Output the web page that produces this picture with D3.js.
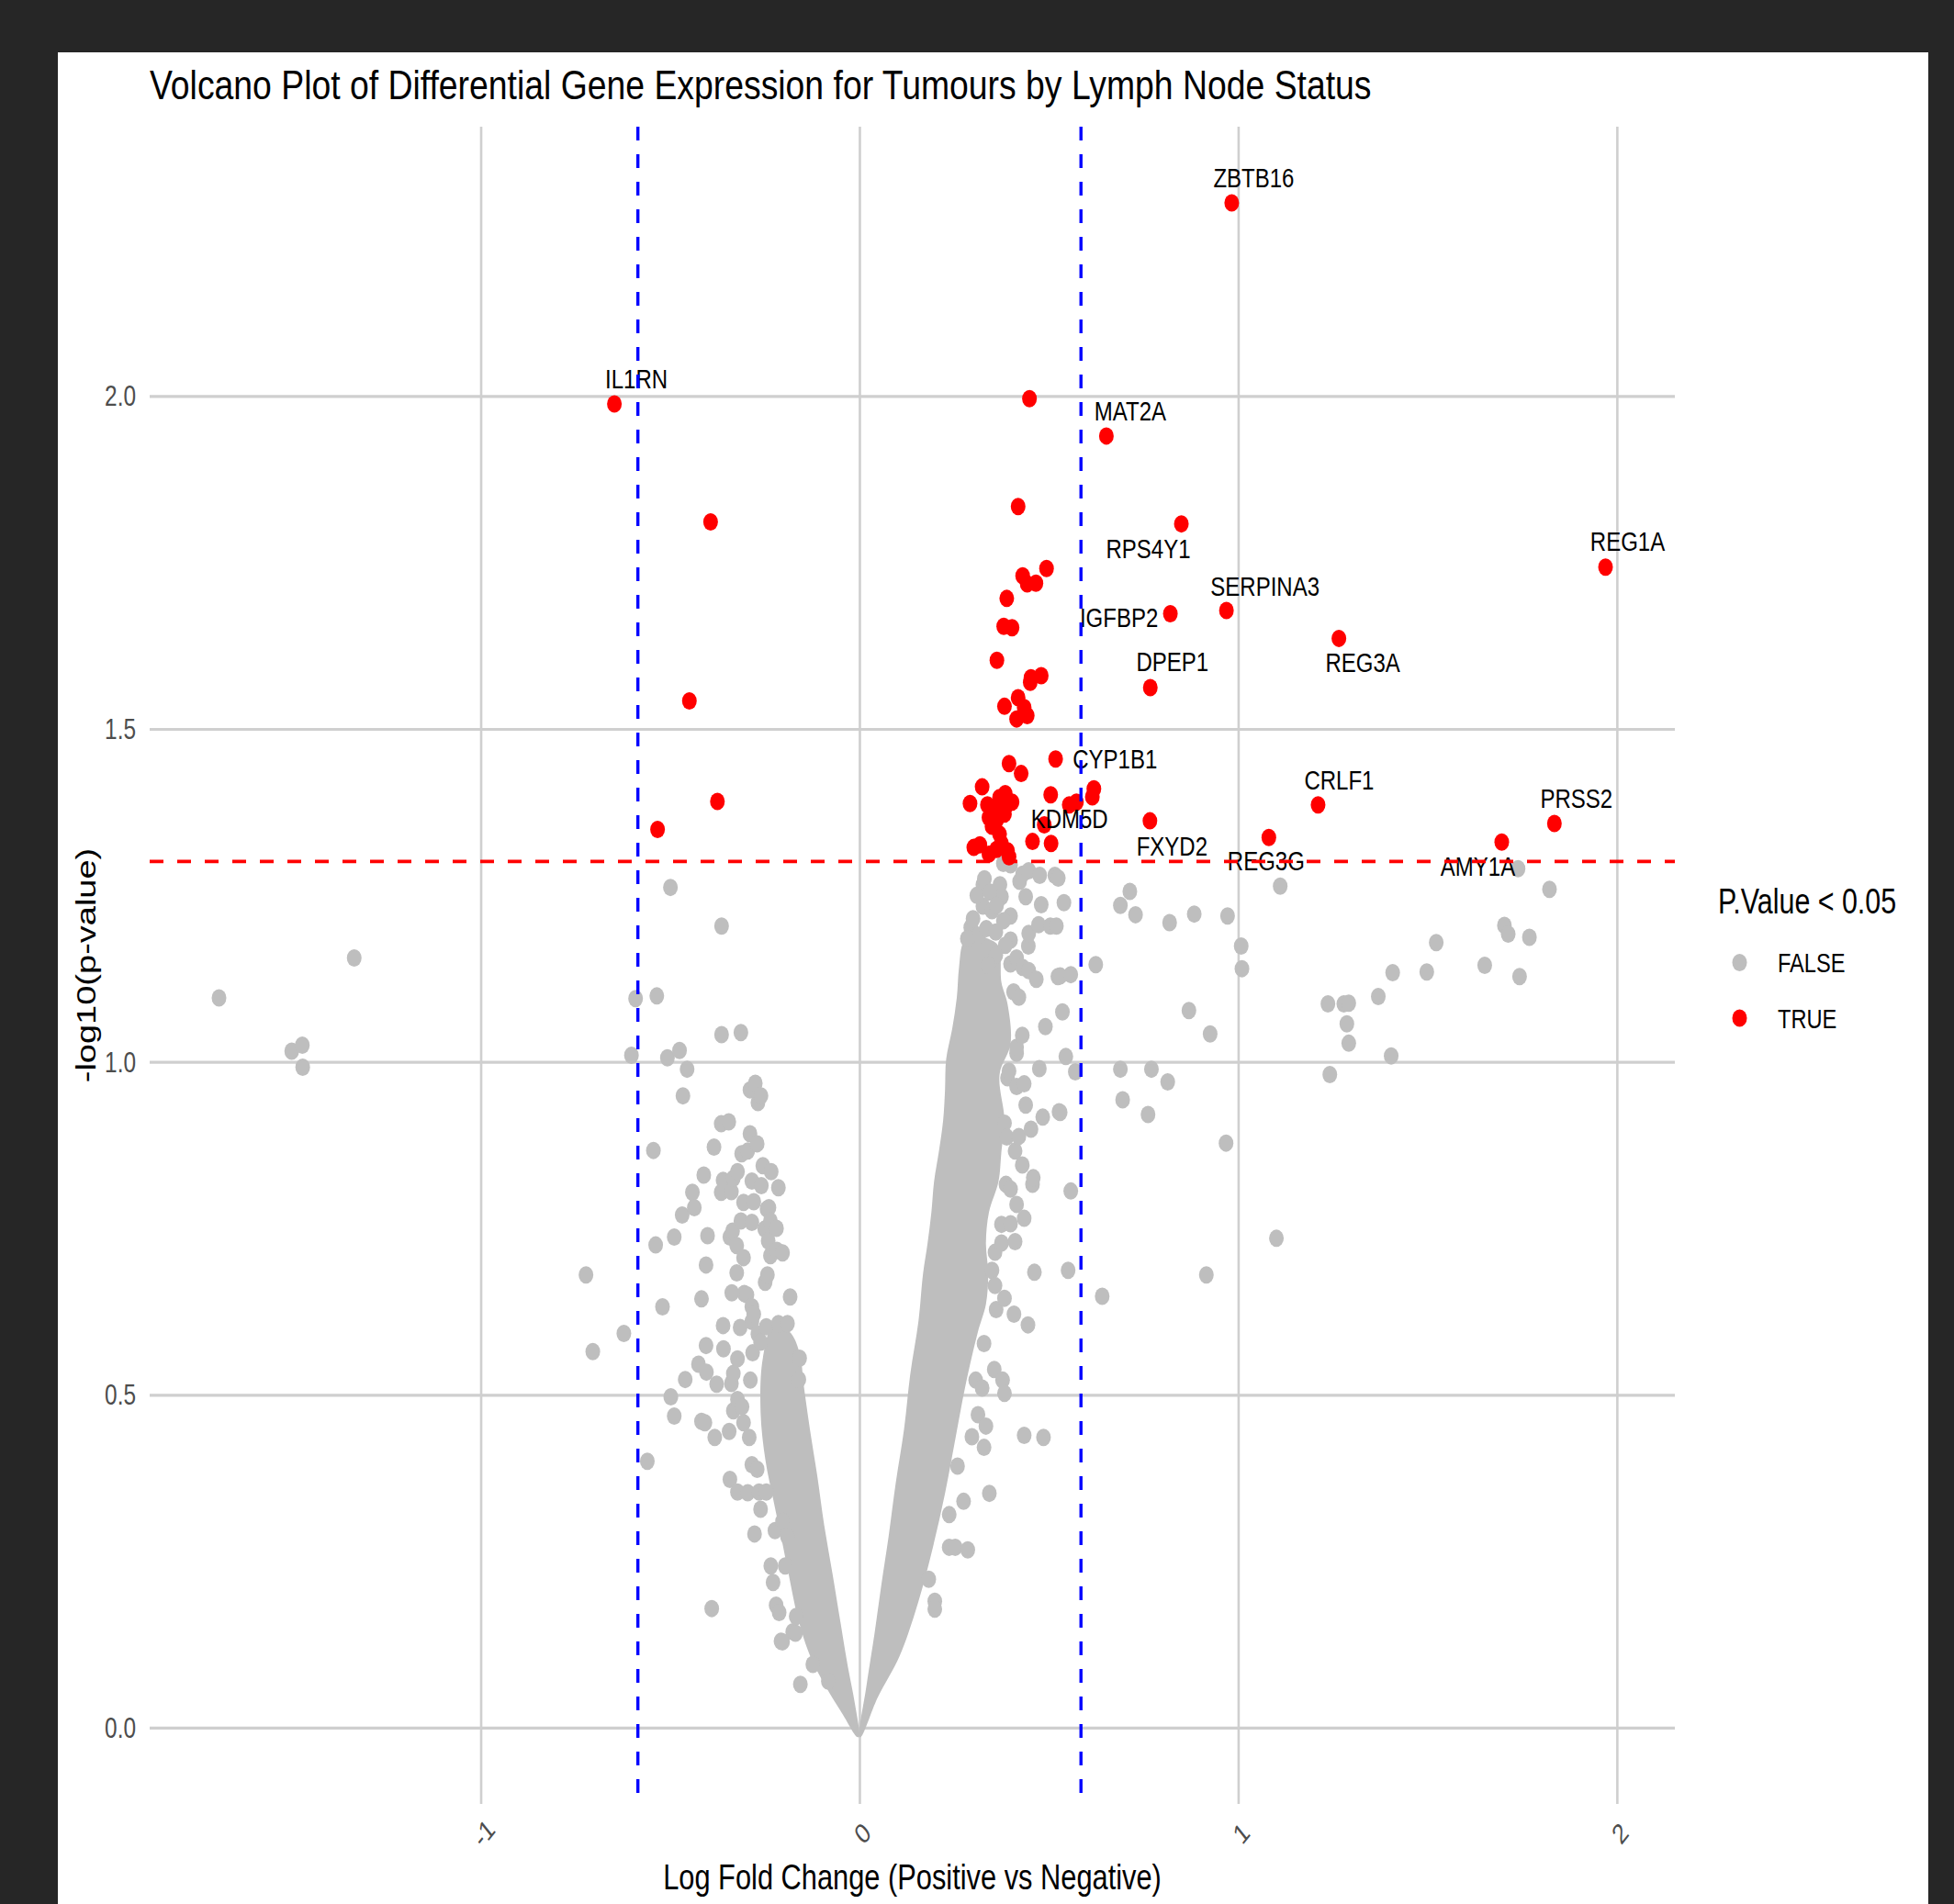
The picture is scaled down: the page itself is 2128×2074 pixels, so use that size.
<!DOCTYPE html>
<html>
<head>
<meta charset="utf-8">
<script src="https://cdn.jsdelivr.net/npm/d3@7"></script>
<style>
  html, body { margin: 0; padding: 0; background: #262626; }
  svg { display: block; }
  text { font-family: "Liberation Sans", Arial, Helvetica, sans-serif; }
</style>
</head>
<body>
<svg id="chart" width="2128" height="2074"></svg>
<script>
// ---------------------------------------------------------------------------
// Data: [log fold change, -log10(p-value)]
// ---------------------------------------------------------------------------

// Genes with P >= 0.05 that sit apart from the main mass
const nonSigGenes = [
  [-1.691,1.096],[-1.334,1.156],[-1.499,1.016],[-1.471,1.025],[-1.470,0.992],
  [-0.722,0.680],[-0.704,0.565],[-0.622,0.592],[-0.602,1.010],[-0.591,1.095],[-0.560,0.400],
  [-0.544,0.867],[-0.538,0.725],[-0.535,1.099],[-0.520,0.632],[-0.507,1.006],[-0.499,1.262],
  [-0.498,0.497],[-0.489,0.737],[-0.489,0.468],[-0.475,1.017],[-0.468,0.770],[-0.466,0.949],
  [-0.460,0.523],[-0.455,0.989],[-0.441,0.804],[-0.436,0.781],[-0.425,0.546],[-0.417,0.644],
  [-0.417,0.460],[-0.411,0.830],[-0.408,0.458],[-0.405,0.695],[-0.405,0.574],[-0.404,0.534],
  [-0.401,0.739],[-0.390,0.179],[-0.384,0.872],[-0.382,0.436],[-0.377,0.516],[-0.365,0.907],
  [-0.365,0.804],[-0.364,1.204],[-0.364,1.041],[-0.360,0.822],[-0.360,0.604],[-0.359,0.569],
  [-0.345,0.910],[-0.344,0.445],[-0.342,0.737],[-0.342,0.373],[-0.338,0.805],[-0.338,0.517],
  [-0.337,0.653],[-0.335,0.746],[-0.333,0.825],[-0.333,0.532],[-0.333,0.476],[-0.324,0.724],
  [-0.324,0.683],[-0.322,0.835],[-0.322,0.554],[-0.322,0.493],[-0.322,0.354],[-0.315,0.601],
  [-0.313,1.044],[-0.313,0.761],[-0.311,0.862],[-0.310,0.482],[-0.306,0.789],[-0.306,0.706],
  [-0.306,0.458],[-0.304,0.652],[-0.297,0.650],[-0.295,0.866],[-0.295,0.353],[-0.291,0.436],
  [-0.289,0.958],[-0.289,0.892],[-0.288,0.522],[-0.284,0.821],[-0.284,0.759],[-0.284,0.632],
  [-0.284,0.610],[-0.284,0.395],[-0.282,0.563],[-0.279,0.790],[-0.279,0.621],[-0.277,0.291],
  [-0.275,0.968],[-0.270,0.877],[-0.270,0.388],[-0.268,0.939],[-0.268,0.591],[-0.265,0.354],
  [-0.261,0.579],[-0.261,0.328],[-0.260,0.949],[-0.259,0.814],[-0.255,0.844],[-0.250,0.749],
  [-0.249,0.669],[-0.246,0.602],[-0.246,0.354],[-0.244,0.779],[-0.243,0.680],[-0.241,0.731],
  [-0.239,0.781],[-0.235,0.761],[-0.235,0.709],[-0.234,0.243],[-0.233,0.835],[-0.228,0.218],
  [-0.223,0.296],[-0.220,0.184],[-0.219,0.750],[-0.218,0.717],[-0.214,0.811],[-0.214,0.607],
  [-0.212,0.173],[-0.207,0.130],[-0.203,0.713],[-0.203,0.310],[-0.203,0.129],[-0.196,0.243],
  [-0.190,0.607],[-0.190,0.287],[-0.183,0.647],[-0.176,0.144],[-0.169,0.142],[-0.167,0.167],
  [-0.160,0.523],[-0.158,0.555],[-0.156,0.065],[-0.123,0.095],[-0.082,0.070],
  [0.183,0.223],[0.199,0.190],[0.199,0.178],[0.237,0.320],[0.237,0.271],[0.253,0.271],
  [0.286,0.267],[0.259,0.393],[0.275,0.340],[0.297,0.437],[0.307,0.522],[0.313,0.470],
  [0.324,0.510],[0.329,0.421],[0.329,0.577],[0.334,0.453],[0.343,0.352],[0.350,0.687],
  [0.356,0.538],[0.358,0.714],[0.358,0.664],[0.361,0.628],[0.375,0.756],[0.375,0.728],
  [0.378,0.522],[0.383,0.502],[0.383,0.645],[0.383,0.908],[0.387,0.816],[0.389,0.887],
  [0.391,0.976],[0.395,0.986],[0.399,0.809],[0.399,0.757],[0.399,1.147],[0.399,1.183],
  [0.399,1.219],[0.399,1.296],[0.407,1.105],[0.408,0.621],[0.411,0.866],[0.411,0.730],
  [0.415,0.963],[0.415,0.786],[0.415,1.013],[0.415,1.022],[0.415,1.156],[0.421,1.097],
  [0.421,0.888],[0.423,1.271],[0.430,1.040],[0.430,0.845],[0.431,1.142],[0.431,1.282],
  [0.435,0.967],[0.435,0.765],[0.435,0.439],[0.439,0.935],[0.439,1.248],[0.447,1.287],
  [0.445,0.605],[0.446,1.174],[0.447,1.193],[0.447,1.137],[0.453,0.899],[0.457,0.816],
  [0.459,0.826],[0.462,0.684],[0.467,1.124],[0.473,1.206],[0.475,0.990],[0.476,1.280],
  [0.480,1.236],[0.484,0.917],[0.486,0.436],[0.491,1.053],[0.504,1.204],[0.516,1.280],
  [0.520,1.204],[0.524,1.128],[0.527,0.925],[0.530,1.129],[0.530,0.924],[0.536,1.075],
  [0.540,1.239],[0.545,1.008],[0.551,0.687],[0.558,1.131],[0.558,0.806],[0.570,0.985],
  [0.624,1.146],[0.641,0.648],[0.689,0.989],[0.689,1.235],[0.695,0.943],[0.714,1.256],
  [0.729,1.221],[0.762,0.921],[0.771,0.989],[0.814,0.970],[0.819,1.209],[0.870,1.077],
  [0.884,1.222],[0.916,0.680],[0.926,1.042],[0.968,0.878],[0.972,1.219],[1.008,1.174],
  [1.010,1.140],[1.101,0.735],[1.111,1.264],[1.237,1.087],[1.242,0.981],[1.279,1.087],
  [1.292,1.088],[1.287,1.057],[1.292,1.028],[1.370,1.098],[1.404,1.009],[1.408,1.134],
  [1.498,1.135],[1.523,1.179],[1.651,1.145],[1.703,1.205],[1.713,1.192],[1.739,1.290],
  [1.743,1.128],[1.769,1.187],[1.822,1.259],
  [0.326,1.266],[0.371,1.266],[0.375,1.248],[0.326,1.234],[0.350,1.227],[0.294,1.202],
  [0.380,1.298],[0.330,1.275],[0.525,1.276],
  [0.300,1.215],[0.315,1.190],[0.335,1.200],[0.360,1.195],[0.310,1.250],[0.345,1.255],
  [0.285,1.185],[0.362,1.235],[0.380,1.212],[0.385,1.175],[0.360,1.160],[0.340,1.145]
];

// Outline of the solid mass formed by thousands of overlapping non-significant genes
const denseCoreNeg = [
  [-0.001,-0.014],[-0.012,0.036],[-0.031,0.093],[-0.050,0.158],[-0.071,0.231],[-0.093,0.304],
  [-0.111,0.377],[-0.131,0.449],[-0.147,0.514],[-0.158,0.563],[-0.185,0.595],[-0.228,0.603],
  [-0.255,0.555],[-0.261,0.474],[-0.248,0.401],[-0.228,0.344],[-0.207,0.287],[-0.187,0.231],
  [-0.163,0.166],[-0.131,0.109],[-0.088,0.061],[-0.044,0.020],[-0.006,-0.014]
];
const denseCorePos = [
  [0.000,-0.014],[0.018,0.061],[0.040,0.142],[0.058,0.215],[0.077,0.287],[0.096,0.368],
  [0.118,0.449],[0.134,0.530],[0.156,0.611],[0.168,0.682],[0.180,0.728],[0.190,0.774],
  [0.197,0.820],[0.210,0.866],[0.221,0.912],[0.226,0.958],[0.229,1.004],[0.245,1.050],
  [0.257,1.096],[0.263,1.142],[0.275,1.180],[0.300,1.190],[0.340,1.185],[0.367,1.174],
  [0.375,1.119],[0.391,1.087],[0.399,1.027],[0.370,0.981],[0.383,0.912],[0.375,0.866],
  [0.367,0.820],[0.342,0.774],[0.334,0.728],[0.340,0.682],[0.334,0.636],[0.313,0.595],
  [0.280,0.514],[0.253,0.433],[0.226,0.352],[0.194,0.271],[0.156,0.190],[0.107,0.109],
  [0.048,0.045],[0.004,-0.014]
];

// Genes with P < 0.05 (unlabelled)
const sigGenes = [
  [-0.393,1.811],[-0.449,1.542],[-0.375,1.391],[-0.533,1.349],
  [0.449,1.996],[0.419,1.834],[0.494,1.741],[0.431,1.730],[0.443,1.718],[0.466,1.719],
  [0.389,1.696],[0.381,1.654],[0.403,1.652],[0.363,1.603],[0.453,1.577],[0.480,1.580],
  [0.451,1.570],[0.383,1.534],[0.419,1.547],[0.435,1.532],[0.443,1.520],[0.415,1.515],
  [0.518,1.455],[0.395,1.448],[0.427,1.433],[0.324,1.413],[0.292,1.388],[0.505,1.401],
  [0.573,1.390],[0.554,1.386],[0.385,1.403],[0.370,1.397],[0.403,1.390],[0.387,1.384],
  [0.358,1.381],[0.338,1.386],[0.342,1.367],[0.362,1.363],[0.383,1.372],[0.350,1.354],
  [0.488,1.356],[0.370,1.342],[0.375,1.328],[0.457,1.331],[0.506,1.328],[0.302,1.322],
  [0.318,1.326],[0.342,1.312],[0.362,1.319],[0.391,1.317],[0.395,1.308]
];

// Labelled genes with P < 0.05
const labelGenes = ["ZBTB16","IL1RN","MAT2A","RPS4Y1","REG1A","SERPINA3","IGFBP2","REG3A",
                    "DPEP1","CYP1B1","KDM5D","CRLF1","PRSS2","FXYD2","REG3G","AMY1A"];
const labelFC    = [0.983,-0.647,0.652,0.850,1.970,0.969,0.821,1.266,
                    0.768,0.619,0.615,1.211,1.835,0.767,1.081,1.696];
const labelLogP  = [2.290,1.988,1.940,1.808,1.743,1.678,1.673,1.636,
                    1.562,1.410,1.398,1.386,1.358,1.362,1.337,1.330];

const xTicks = [-1, 0, 1, 2];
const yTicks = [0, 0.5, 1, 1.5, 2];
const legendKeys = ["FALSE", "TRUE"];

const fcCutoff = Math.log2(1.5);
const pCutoff = 0.05;

// ---------------------------------------------------------------------------
// Layout
// ---------------------------------------------------------------------------
const W = 2128, H = 2074;
const panel = { left: 163, right: 1824, top: 138, bottom: 1965 };
const SQ = 0.8;                     // horizontal glyph squeeze used by the text elements
const GREY = "#bebebe", RED = "#ff0000", BLUE = "#0000ff";
const DOT_RX = 8, DOT_RY = 9.5;

// Label placement relative to the labelled point, in pixels (repelled layout)
const labelNudge = {
  ZBTB16:[24,-17], IL1RN:[24,-17], MAT2A:[26,-17], RPS4Y1:[-36,37], REG1A:[24,-18],
  SERPINA3:[42,-16], IGFBP2:[-56,14], REG3A:[26,37], DPEP1:[24,-18], CYP1B1:[23,-22],
  KDM5D:[-25,34], CRLF1:[23,-17], PRSS2:[24,-17], FXYD2:[24,38], REG3G:[-3,36], AMY1A:[-26,37]
};

const labelled = labelGenes.map((g, i) => ({ gene: g, fc: labelFC[i], lp: labelLogP[i] }));

// Scales follow the usual 5% expansion around the data range
const allFC = nonSigGenes.map(d => d[0]).concat(sigGenes.map(d => d[0]), labelFC);
const allLP = nonSigGenes.map(d => d[1]).concat(sigGenes.map(d => d[1]), labelLogP);
const [xLo, xHi] = d3.extent(allFC);
const xPad = (xHi - xLo) * 0.05;
const yLo = 0, yHi = d3.max(allLP);
const yPad = (yHi - yLo) * 0.05;

const x = d3.scaleLinear().domain([xLo - xPad, xHi + xPad]).range([panel.left, panel.right]);
const y = d3.scaleLinear().domain([yLo - yPad, yHi + yPad]).range([panel.bottom, panel.top]);

const svg = d3.select("#chart");

// page background and white plot card
svg.append("rect").attr("width", W).attr("height", H).attr("fill", "#262626");
svg.append("rect").attr("x", 63).attr("y", 57).attr("width", 2037).attr("height", H - 57).attr("fill", "#ffffff");

// ---------------------------------------------------------------------------
// Grid via axes
// ---------------------------------------------------------------------------
const yAxis = svg.append("g")
  .attr("transform", `translate(${panel.left},0)`)
  .call(d3.axisLeft(y).tickValues(yTicks).tickFormat(d3.format(".1f"))
        .tickSize(-(panel.right - panel.left)).tickPadding(0));
yAxis.select(".domain").remove();
yAxis.selectAll(".tick line").attr("stroke", "#cfcfcf").attr("stroke-width", 3.2);
yAxis.selectAll(".tick text")
  .attr("x", null).attr("dy", null)
  .attr("text-anchor", "end")
  .attr("dominant-baseline", "central")
  .attr("transform", `translate(-15,0) scale(${SQ},1)`)
  .attr("fill", "#4d4d4d")
  .style("font-size", "30.5px")
  .style("font-family", "'Liberation Sans', Arial, sans-serif");

const xAxis = svg.append("g")
  .attr("transform", `translate(0,${panel.bottom})`)
  .call(d3.axisBottom(x).tickValues(xTicks).tickFormat(d => String(d))
        .tickSize(-(panel.bottom - panel.top)).tickPadding(0));
xAxis.select(".domain").remove();
xAxis.selectAll(".tick line").attr("stroke", "#cfcfcf").attr("stroke-width", 2.6);
xAxis.selectAll(".tick text")
  .attr("y", null).attr("dy", null)
  .attr("text-anchor", "middle")
  .attr("dominant-baseline", "central")
  .attr("transform", `translate(3,32) scale(${SQ},1) rotate(-45)`)
  .attr("fill", "#4d4d4d")
  .style("font-size", "30.5px")
  .style("font-family", "'Liberation Sans', Arial, sans-serif");

// ---------------------------------------------------------------------------
// Points
// ---------------------------------------------------------------------------
const core = d3.line().x(d => x(d[0])).y(d => y(d[1])).curve(d3.curveCatmullRomClosed.alpha(0.5));
const gPts = svg.append("g");
gPts.selectAll("path.core").data([denseCoreNeg, denseCorePos]).join("path")
  .attr("class", "core").attr("d", core).attr("fill", GREY);

gPts.selectAll("ellipse.ns").data(nonSigGenes).join("ellipse")
  .attr("class", "ns")
  .attr("cx", d => x(d[0])).attr("cy", d => y(d[1]))
  .attr("rx", DOT_RX).attr("ry", DOT_RY).attr("fill", GREY);

gPts.selectAll("ellipse.sig").data(sigGenes).join("ellipse")
  .attr("class", "sig")
  .attr("cx", d => x(d[0])).attr("cy", d => y(d[1]))
  .attr("rx", DOT_RX).attr("ry", DOT_RY).attr("fill", RED);

gPts.selectAll("ellipse.lab").data(labelled).join("ellipse")
  .attr("class", "lab")
  .attr("cx", d => x(d.fc)).attr("cy", d => y(d.lp))
  .attr("rx", DOT_RX).attr("ry", DOT_RY).attr("fill", RED);

// gene labels
svg.append("g").selectAll("text").data(labelled).join("text")
  .attr("text-anchor", "middle")
  .attr("transform", d => {
    const n = labelNudge[d.gene];
    return `translate(${x(d.fc) + n[0]},${y(d.lp) + n[1]}) scale(${SQ},1)`;
  })
  .style("font-size", "30px")
  .attr("fill", "#000")
  .text(d => d.gene);

// ---------------------------------------------------------------------------
// Threshold lines
// ---------------------------------------------------------------------------
const gRef = svg.append("g");
gRef.selectAll("line.fc").data([-fcCutoff, fcCutoff]).join("line")
  .attr("class", "fc")
  .attr("x1", d => x(d)).attr("x2", d => x(d))
  .attr("y1", panel.top).attr("y2", panel.bottom)
  .attr("stroke", BLUE).attr("stroke-width", 3.4).attr("stroke-dasharray", "15,15");
gRef.selectAll("line.p").data([-Math.log10(pCutoff)]).join("line")
  .attr("class", "p")
  .attr("x1", panel.left).attr("x2", panel.right)
  .attr("y1", d => y(d)).attr("y2", d => y(d))
  .attr("stroke", RED).attr("stroke-width", 3.6).attr("stroke-dasharray", "15,15");

// ---------------------------------------------------------------------------
// Titles
// ---------------------------------------------------------------------------
svg.append("text")
  .attr("transform", `translate(${panel.left},108) scale(0.83,1)`)
  .style("font-size", "45px").attr("fill", "#000")
  .text("Volcano Plot of Differential Gene Expression for Tumours by Lymph Node Status");

svg.append("text")
  .attr("text-anchor", "middle")
  .attr("transform", `translate(${(panel.left + panel.right) / 2},2058) scale(${SQ},1)`)
  .style("font-size", "38.5px").attr("fill", "#000")
  .text("Log Fold Change (Positive vs Negative)");

svg.append("text")
  .attr("text-anchor", "middle")
  .attr("dominant-baseline", "central")
  .attr("transform", `translate(93,${(panel.top + panel.bottom) / 2}) scale(${SQ},1) rotate(-90)`)
  .style("font-size", "38px").attr("fill", "#000")
  .text("-log10(p-value)");

// ---------------------------------------------------------------------------
// Legend
// ---------------------------------------------------------------------------
const legend = svg.append("g");
legend.append("text")
  .attr("transform", `translate(1871,995) scale(${SQ},1)`)
  .style("font-size", "38px").attr("fill", "#000")
  .text("P.Value < 0.05");
const keyY = d3.scalePoint().domain(legendKeys).range([1048.5, 1109]);
const keyColour = d3.scaleOrdinal().domain(legendKeys).range([GREY, RED]);
legend.selectAll("ellipse").data(legendKeys).join("ellipse")
  .attr("cx", 1894.5).attr("cy", d => keyY(d))
  .attr("rx", DOT_RX).attr("ry", DOT_RY).attr("fill", d => keyColour(d));
legend.selectAll("text.key").data(legendKeys).join("text")
  .attr("class", "key")
  .attr("transform", d => `translate(1936,${keyY(d) + 10.5}) scale(${SQ},1)`)
  .style("font-size", "29.5px").attr("fill", "#000")
  .text(d => d);
</script>
</body>
</html>
